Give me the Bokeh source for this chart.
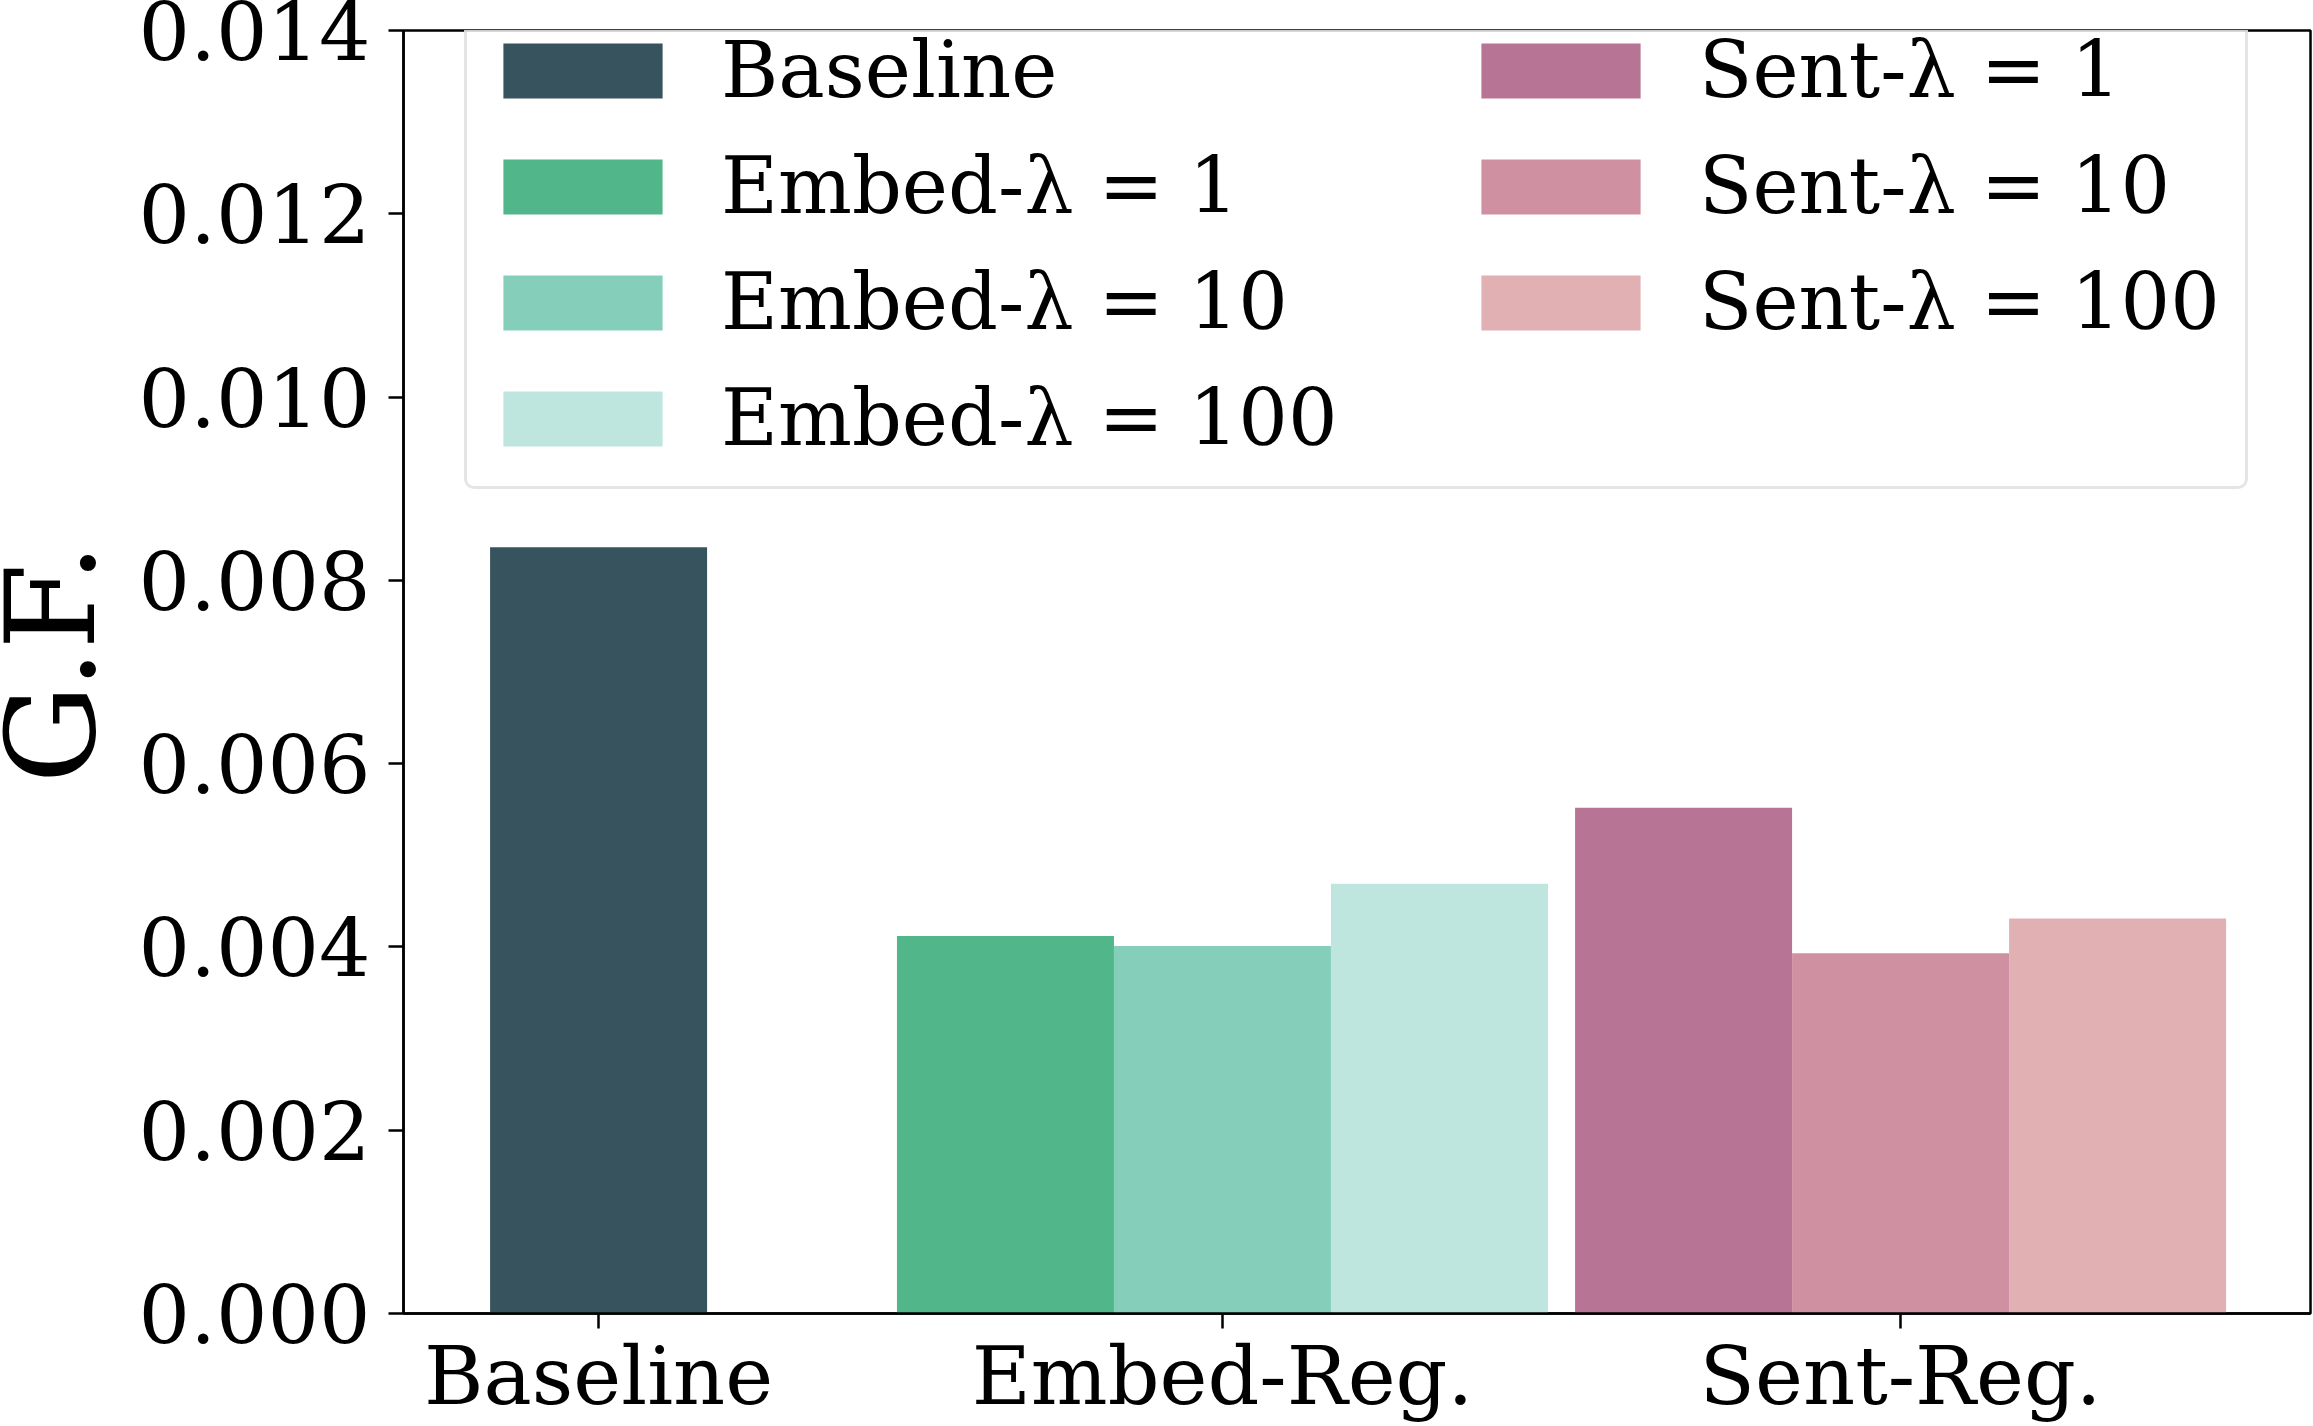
import math
from bokeh.plotting import figure
from bokeh.layouts import row
from bokeh.models import Range1d, FixedTicker, NumeralTickFormatter, Legend, LegendItem, Label
from bokeh.embed import file_html
from bokeh.resources import INLINE

# ---- data ----
groups = ["Baseline", "Embed-Reg.", "Sent-Reg."]
group_pos = [0.0, 2.875, 6.0]
baseline_label = ["Baseline"]
baseline_values = [0.00836]
embed_labels = ["Embed-λ = 1", "Embed-λ = 10", "Embed-λ = 100"]
embed_values = [0.00412, 0.00401, 0.00469]
sent_labels = ["Sent-λ = 1", "Sent-λ = 10", "Sent-λ = 100"]
sent_values = [0.00552, 0.00393, 0.00431]
y_ticks = [0.000, 0.002, 0.004, 0.006, 0.008, 0.010, 0.012, 0.014]
y_title = "G.F."

baseline_colors = ["#37535e"]
embed_colors = ["#52b68b", "#85cfba", "#bee6de"]
sent_colors = ["#b87494", "#cf90a2", "#e1b0b3"]

FONT = "DejaVu Serif"
TICK_PX = "81px"
TITLE_W = 120

# ---- narrow strip holding the y-axis title (its frame is aligned with the chart's) ----
lab_fig = figure(width=TITLE_W, height=1426, output_backend="svg", toolbar_location=None,
                 x_range=Range1d(0, 1), y_range=Range1d(0, 1),
                 x_axis_location=None, y_axis_location=None, min_border=0)
lab_fig.xgrid.visible = False
lab_fig.ygrid.visible = False
lab_fig.outline_line_color = None
lab_fig.background_fill_color = "white"
lab_fig.border_fill_color = "white"
lab_fig.add_layout(Label(x=50, y=650, x_units="screen", y_units="screen", text=y_title,
                         angle=math.pi / 2, text_align="center", text_baseline="middle",
                         text_font=FONT, text_font_size="124px", text_color="black"))

# ---- main chart ----
p = figure(width=2313 - TITLE_W, height=1426, output_backend="svg", toolbar_location=None,
           x_range=Range1d(-0.899, 7.889), y_range=Range1d(0, 0.014))
p.min_border_left = 403 - TITLE_W
p.min_border_right = 3
p.min_border_top = 30
p.min_border_bottom = 113
p.background_fill_color = "white"
p.border_fill_color = "white"
p.xgrid.visible = False
p.ygrid.visible = False
p.outline_line_color = "black"
p.outline_line_width = 2.5
p.outline_line_alpha = 1.0

col1_items = []
col2_items = []
offsets = [-1.0, 0.0, 1.0]

r = p.vbar(x=[group_pos[0]], top=baseline_values, width=1.0, bottom=0,
           fill_color=baseline_colors[0], line_color=None)
col1_items.append(LegendItem(label=baseline_label[0], renderers=[r]))

for i, (lab, v, c) in enumerate(zip(embed_labels, embed_values, embed_colors)):
    r = p.vbar(x=[group_pos[1] + offsets[i]], top=[v], width=1.0, bottom=0,
               fill_color=c, line_color=None)
    col1_items.append(LegendItem(label=lab, renderers=[r]))

for i, (lab, v, c) in enumerate(zip(sent_labels, sent_values, sent_colors)):
    r = p.vbar(x=[group_pos[2] + offsets[i]], top=[v], width=1.0, bottom=0,
               fill_color=c, line_color=None)
    col2_items.append(LegendItem(label=lab, renderers=[r]))

# axes
p.xaxis.ticker = FixedTicker(ticks=group_pos)
p.xaxis.major_label_overrides = {gp: g for gp, g in zip(group_pos, groups)}
p.yaxis.ticker = FixedTicker(ticks=y_ticks)
p.yaxis.formatter = NumeralTickFormatter(format="0.000")

for ax in (p.xaxis[0], p.yaxis[0]):
    ax.axis_line_color = "black"
    ax.axis_line_width = 2.5
    ax.major_tick_line_color = "black"
    ax.major_tick_line_width = 2.5
    ax.major_tick_out = 15
    ax.major_tick_in = 0
    ax.minor_tick_line_color = None
    ax.major_label_text_font = FONT
    ax.major_label_text_font_size = TICK_PX
    ax.major_label_text_color = "black"

p.yaxis.major_label_standoff = 18
p.xaxis.major_label_standoff = 0


def style_legend(lg):
    lg.label_text_font = FONT
    lg.label_text_font_size = "78px"
    lg.label_text_color = "black"
    lg.glyph_width = 199
    lg.glyph_height = 69
    lg.label_standoff = 39
    lg.label_height = 104
    lg.spacing = 12
    lg.padding = 16
    lg.margin = 0
    lg.orientation = "vertical"


legend_a = Legend(items=col1_items, location=(61, 824))
style_legend(legend_a)
legend_a.label_width = 1508
legend_a.border_line_color = "#cccccc"
legend_a.border_line_width = 3
legend_a.background_fill_color = "white"
legend_a.background_fill_alpha = 0.8
if "border_radius" in Legend.properties():
    legend_a.border_radius = 10

legend_b = Legend(items=col2_items, location=(1058, 959))
style_legend(legend_b)
legend_b.border_line_color = None
legend_b.background_fill_alpha = 0.0

p.add_layout(legend_a, "center")
p.add_layout(legend_b, "center")

layout = row(lab_fig, p)
open("out.html", "w").write(file_html(layout, INLINE))
